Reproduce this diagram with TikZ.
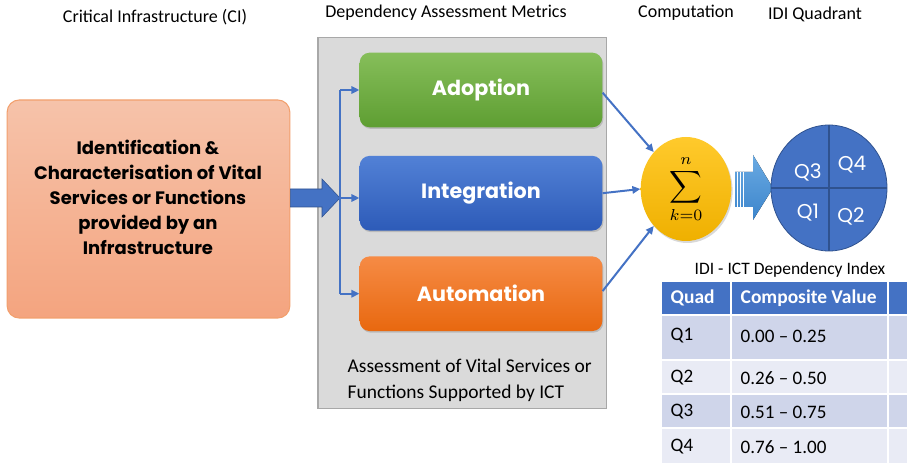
\documentclass[tikz,border=0pt]{standalone}
\usepackage{fontspec}
\setmainfont{Carlito}
\newfontfamily\gothic{Poppins}
\usepackage{tikz}
\usetikzlibrary{positioning,arrows.meta,calc,shadows,shapes.geometric,backgrounds}
\definecolor{salmon}{HTML}{F6C3AA}
\definecolor{salmonb}{HTML}{F4A47F}
\definecolor{naranja}{HTML}{F2A06E}
\definecolor{panelg}{HTML}{DADADA}
\definecolor{bordeg}{HTML}{A8A8A8}
\definecolor{halog}{HTML}{CBCBCB}
\definecolor{verdea}{HTML}{86BE5A}
\definecolor{verdeb}{HTML}{5E9E32}
\definecolor{azula}{HTML}{5281D6}
\definecolor{azulb}{HTML}{2D5BB8}
\definecolor{orangea}{HTML}{F68B45}
\definecolor{orangeb}{HTML}{E8680F}
\definecolor{azul}{HTML}{4472C4}
\definecolor{azuloscuro}{HTML}{2F528F}
\definecolor{celeste}{HTML}{6AAAE2}
\definecolor{celesteb}{HTML}{3C85CC}
\definecolor{oro}{HTML}{FFCA2C}
\definecolor{orob}{HTML}{EFB000}
\definecolor{filaa}{HTML}{CFD5EA}
\definecolor{filab}{HTML}{E9EBF5}

\begin{document}
\begin{tikzpicture}[x=0.75pt, y=-0.75pt,
  titulo/.style={font=\fontsize{13.5}{15}\selectfont, anchor=center},
  metrica/.style={rounded corners=7.5pt, minimum width=182pt, minimum height=56pt,
    text=white, font=\gothic\bfseries\fontsize{15.5}{17}\selectfont,
    drop shadow={opacity=0.35, shadow xshift=0.8pt, shadow yshift=-1.2pt}},
  flecha/.style={azul, line width=1.5pt, -{Triangle[length=6pt,width=5.5pt]}},
  celda/.style={draw=white, line width=1.2pt},
  texto/.style={anchor=west, font=\fontsize{14.3}{16}\selectfont}]
  \clip (0,0) rectangle (907,463);

  % column headings
  \node[titulo] at (155,17) {Critical Infrastructure (CI)};
  \node[titulo] at (446,13) {Dependency Assessment Metrics};
  \node[titulo] at (686,13) {Computation};
  \node[titulo] at (815,14) {IDI Quadrant};

  % critical infrastructure box
  \node[draw=naranja, line width=0.8pt, rounded corners=9pt, top color=salmon, bottom color=salmonb,
    minimum width=212pt, minimum height=163.5pt] (ci) at (148.5,209) {};
  \node[align=center, font=\gothic\bfseries\fontsize{13.5}{18.75}\selectfont] (citxt) at (148,197)
    {Identification \&\\Characterisation of Vital\\Services or Functions\\provided by an\\Infrastructure};

  % grey panel with the three metrics
  \node[draw=bordeg, fill=panelg, minimum width=216pt, minimum height=278pt] (panel) at (462,222.5) {};
  \node[metrica, top color=verdea, bottom color=verdeb] (adopt) at (481,90) {Adoption};
  \node[metrica, top color=azula, bottom color=azulb, below=21pt of adopt] (integ) {Integration};
  \node[metrica, top color=orangea, bottom color=orangeb, below=19pt of integ] (autom) {Automation};
  \begin{scope}[on background layer]
    \fill[panelg] (panel.north west) rectangle (panel.south east);
    \draw[bordeg] (panel.north west) rectangle (panel.south east);
    \foreach \b in {adopt,integ,autom}
      \fill[halog] ($(\b.north west)+(-4,-5)$) rectangle ($(\b.south east)+(4,6)$);
  \end{scope}
  \node[anchor=north west, align=left, font=\fontsize{14.6}{19.5}\selectfont] (nota) at (343,354)
    {Assessment of Vital Services or\\Functions Supported by ICT};

  % block arrow into the panel
  \fill[azul, draw=azuloscuro, line width=0.4pt]
    (ci.east |- 0,189) -- (322,189) -- (322,179) -- (340,198) -- (322,217) -- (322,207)
    -- (ci.east |- 0,207) -- cycle;
  \coordinate (fork) at (340,198);
  \draw[azul, line width=1.5pt] (fork |- adopt.west) -- (fork |- autom.west);
  \draw[flecha] (fork |- adopt.west) -- (adopt.west);
  \draw[flecha] (fork) -- (integ.west |- fork);
  \draw[flecha] (fork |- autom.west) -- (autom.west);

  % summation
  \node[ellipse, minimum width=68pt, minimum height=78pt, inner sep=0pt, top color=oro, bottom color=orob,
    drop shadow={opacity=0.3, shadow xshift=1pt, shadow yshift=-1.5pt}] (sum) at (686,189)
    {\scalebox{1.7}{$\displaystyle\sum_{k=0}^{n}$}};
  \draw[flecha] ([yshift=-2pt]adopt.east) -- (sum.north west);
  \draw[flecha] (integ.east) -- (sum.west);
  \draw[flecha] ([yshift=2pt]autom.east) -- (sum.south west);

  % arrow to the quadrant
  \fill[top color=celeste, bottom color=celesteb]
    (735,172) -- (753,172) -- (753,155) -- (773,188) -- (753,220) -- (753,207) -- (735,207) -- cycle;
  \foreach \s in {737.5,740.5,743.5}
    \draw[white, line width=0.5pt] (\s,172) -- (\s,207);

  % IDI quadrant
  \node[ellipse, draw=azuloscuro, fill=azul, line width=0.6pt,
    minimum width=87pt, minimum height=94.5pt] (quad) at (829,188) {};
  \draw[azuloscuro, line width=0.8pt] (quad.north) -- (quad.south);
  \draw[azuloscuro, line width=0.8pt] (quad.west) -- (quad.east);
  \foreach \q/\x/\y in {Q3/808/172, Q4/852/165, Q1/808/213, Q2/851/216}
    \node[text=white, font=\gothic\fontsize{15}{15}\selectfont] at (\x,\y) {\q};

  % index table
  \node[font=\fontsize{13.1}{15}\selectfont] (idi) at (790,270) {IDI - ICT Dependency Index};
  \fill[azul] (662,282) rectangle (915,315);
  \foreach \ya/\yb/\c in {315/360/filaa, 360/394/filab, 394/428/filaa, 428/470/filab}
    \fill[\c] (662,\ya) rectangle (915,\yb);
  \foreach \yy in {315,360,394,428}
    \draw[celda] (662,\yy) -- (915,\yy);
  \foreach \xx in {731,888}
    \draw[celda] (\xx,282) -- (\xx,470);
  \node[texto, text=white, font=\bfseries\fontsize{14.6}{16}\selectfont] (hq) at (666,298) {Quad};
  \node[texto, text=white, font=\bfseries\fontsize{14.6}{16}\selectfont] (hv) at (736,298) {Composite Value};
  \foreach \q/\y in {Q1/336, Q2/378, Q3/412, Q4/447}
    \node[texto] at (666,\y) {\q};
  \node[texto] (r1) at (736,336) {0.00 -- 0.25};
  \node[texto] (r2) at (736,378) {0.26 -- 0.50};
  \node[texto] (r3) at (736,412) {0.51 -- 0.75};
  \node[texto] (r4) at (736,447) {0.76 -- 1.00};
\end{tikzpicture}
\end{document}
